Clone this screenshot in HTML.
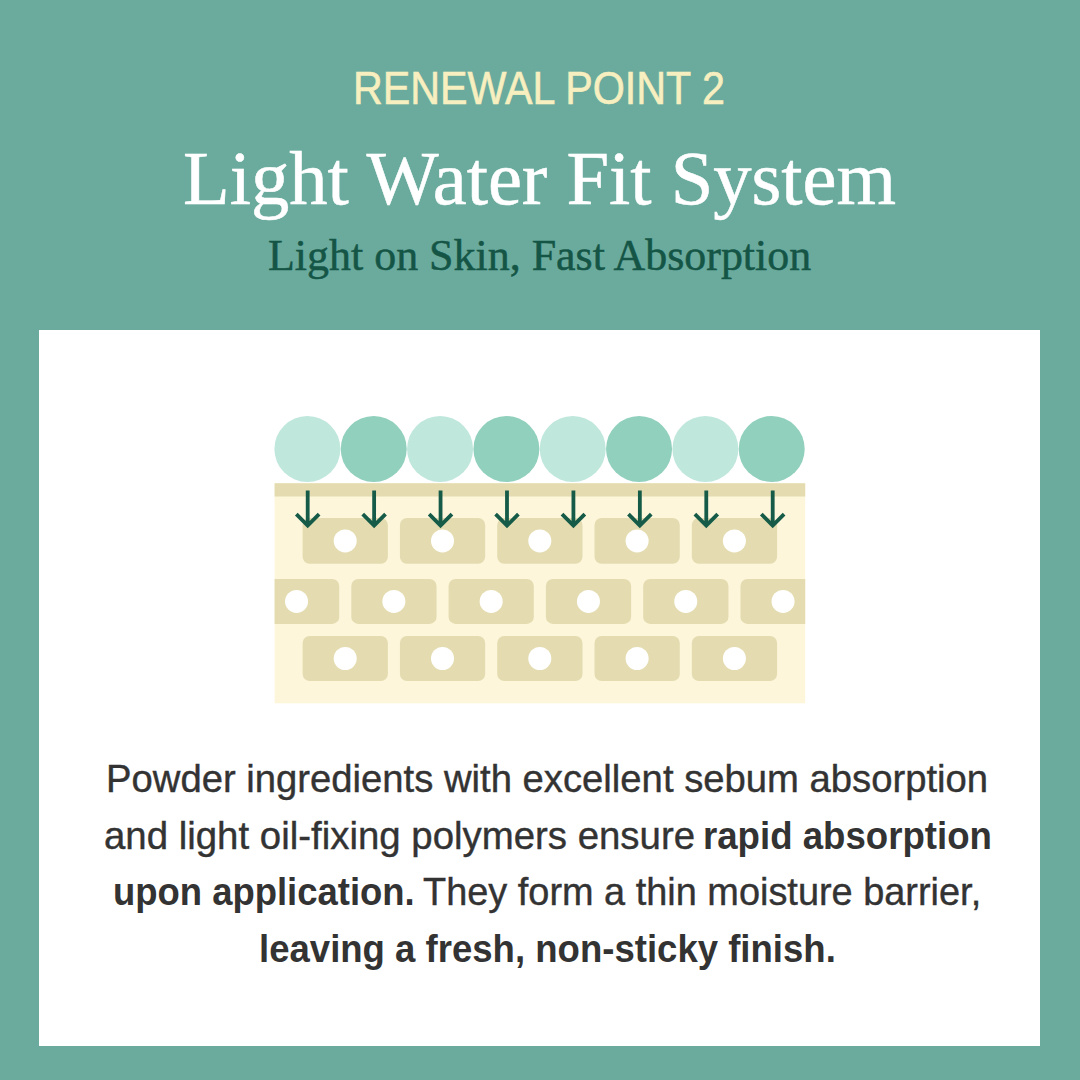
<!DOCTYPE html>
<html><head><meta charset="utf-8">
<style>
html,body{margin:0;padding:0;}
body{width:1080px;height:1080px;background:#6aab9e;position:relative;overflow:hidden;}
.panel{position:absolute;left:39px;top:330px;width:1001px;height:716px;background:#fff;}
.dia{position:absolute;left:0;top:0;}
.t{position:absolute;white-space:nowrap;line-height:1;transform-origin:0 0;}
.sans{font-family:"Liberation Sans",sans-serif;}
.serif{font-family:"Liberation Serif",serif;}
.b{font-weight:bold;}
</style></head><body>
<div class="panel"></div>
<svg class="dia" width="1080" height="1080" viewBox="0 0 1080 1080">
<defs><clipPath id="blk"><rect x="274.6" y="483.2" width="530.6" height="220.1"/></clipPath></defs>
<circle cx="307.40" cy="449" r="33" fill="#bfe7dc"/><circle cx="373.73" cy="449" r="33" fill="#90d0bc"/><circle cx="440.06" cy="449" r="33" fill="#bfe7dc"/><circle cx="506.39" cy="449" r="33" fill="#90d0bc"/><circle cx="572.72" cy="449" r="33" fill="#bfe7dc"/><circle cx="639.05" cy="449" r="33" fill="#90d0bc"/><circle cx="705.38" cy="449" r="33" fill="#bfe7dc"/><circle cx="771.71" cy="449" r="33" fill="#90d0bc"/>
<rect x="274.6" y="483.2" width="530.6" height="220.1" fill="#fdf6db"/>
<rect x="274.6" y="483.2" width="530.6" height="13.3" fill="#e4dcb0"/>
<g clip-path="url(#blk)"><g fill="#e4dcb0"><rect x="302.60" y="518.0" width="85.3" height="45.8" rx="7"/><rect x="399.90" y="518.0" width="85.3" height="45.8" rx="7"/><rect x="497.20" y="518.0" width="85.3" height="45.8" rx="7"/><rect x="594.50" y="518.0" width="85.3" height="45.8" rx="7"/><rect x="691.80" y="518.0" width="85.3" height="45.8" rx="7"/><rect x="253.95" y="578.9" width="85.3" height="45.0" rx="7"/><rect x="351.25" y="578.9" width="85.3" height="45.0" rx="7"/><rect x="448.55" y="578.9" width="85.3" height="45.0" rx="7"/><rect x="545.85" y="578.9" width="85.3" height="45.0" rx="7"/><rect x="643.15" y="578.9" width="85.3" height="45.0" rx="7"/><rect x="740.45" y="578.9" width="85.3" height="45.0" rx="7"/><rect x="302.60" y="635.9" width="85.3" height="45.2" rx="7"/><rect x="399.90" y="635.9" width="85.3" height="45.2" rx="7"/><rect x="497.20" y="635.9" width="85.3" height="45.2" rx="7"/><rect x="594.50" y="635.9" width="85.3" height="45.2" rx="7"/><rect x="691.80" y="635.9" width="85.3" height="45.2" rx="7"/></g><g fill="#fff"><circle cx="345.20" cy="540.90" r="11.5"/><circle cx="442.50" cy="540.90" r="11.5"/><circle cx="539.80" cy="540.90" r="11.5"/><circle cx="637.10" cy="540.90" r="11.5"/><circle cx="734.40" cy="540.90" r="11.5"/><circle cx="296.55" cy="601.40" r="11.5"/><circle cx="393.85" cy="601.40" r="11.5"/><circle cx="491.15" cy="601.40" r="11.5"/><circle cx="588.45" cy="601.40" r="11.5"/><circle cx="685.75" cy="601.40" r="11.5"/><circle cx="783.05" cy="601.40" r="11.5"/><circle cx="345.20" cy="658.50" r="11.5"/><circle cx="442.50" cy="658.50" r="11.5"/><circle cx="539.80" cy="658.50" r="11.5"/><circle cx="637.10" cy="658.50" r="11.5"/><circle cx="734.40" cy="658.50" r="11.5"/></g></g>
<path d="M307.70 490.6V525M296.30 514.2L307.70 525.6L319.10 514.2M374.13 490.6V525M362.73 514.2L374.13 525.6L385.53 514.2M440.56 490.6V525M429.16 514.2L440.56 525.6L451.96 514.2M506.99 490.6V525M495.59 514.2L506.99 525.6L518.39 514.2M573.42 490.6V525M562.02 514.2L573.42 525.6L584.82 514.2M639.85 490.6V525M628.45 514.2L639.85 525.6L651.25 514.2M706.28 490.6V525M694.88 514.2L706.28 525.6L717.68 514.2M772.71 490.6V525M761.31 514.2L772.71 525.6L784.11 514.2" fill="none" stroke="#155b48" stroke-width="3.8"/>
</svg>
<div class="t sans" style="left:353.28px;top:65.9px;font-size:45.5px;transform:scaleX(0.9062);color:#f7efbf;-webkit-text-stroke:0.6px #f7efbf">RENEWAL POINT 2</div>
<div class="t serif" style="left:183.21px;top:140.3px;font-size:77.1px;transform:scaleX(0.9927);color:#ffffff;-webkit-text-stroke:0.55px #ffffff">Light Water Fit System</div>
<div class="t serif" style="left:267.9px;top:233.5px;font-size:43.8px;transform:scaleX(1.0033);color:#145546;-webkit-text-stroke:0.5px #145546">Light on Skin, Fast Absorption</div>
<div class="t sans" style="left:106.02px;top:759.8px;font-size:38.5px;transform:scaleX(0.9932);color:#333333;-webkit-text-stroke:0.4px #333333">Powder ingredients with excellent sebum absorption</div>
<div class="t sans" style="left:104.01px;top:816.5px;font-size:38.5px;transform:scaleX(0.9971);color:#333333;-webkit-text-stroke:0.4px #333333">and light oil-fixing polymers ensure</div>
<div class="t sans b" style="left:702.65px;top:816.5px;font-size:38.5px;transform:scaleX(0.9513);color:#333333">rapid absorption</div>
<div class="t sans b" style="left:113.11px;top:873.1px;font-size:38.5px;transform:scaleX(0.9468);color:#333333">upon application.</div>
<div class="t sans" style="left:423.42px;top:873.1px;font-size:38.5px;transform:scaleX(0.9844);color:#333333;-webkit-text-stroke:0.4px #333333">They form a thin moisture barrier,</div>
<div class="t sans b" style="left:259.05px;top:929.8px;font-size:38.5px;transform:scaleX(0.9493);color:#333333">leaving a fresh, non-sticky finish.</div>
</body></html>
